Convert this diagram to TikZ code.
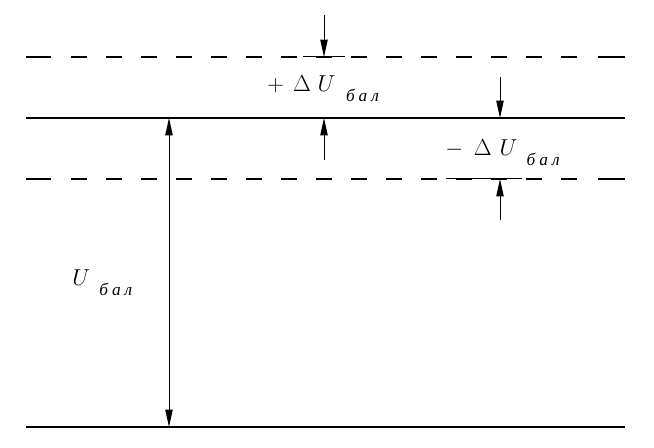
\documentclass[tikz,border=0pt]{standalone}
\usepackage{fontspec}
\usetikzlibrary{arrows.meta}
\newfontfamily\cyrit{Liberation Serif}
\newcommand{\subbal}{{\cyrit\itshape\fontsize{13}{15}\selectfont б\hspace{3pt}а\hspace{3pt}л}}
\tikzset{
  mainline/.style={line width=1.5pt},
  dashpart/.style={line width=1.5pt, dash pattern=on 12pt off 14.25pt},
  thinline/.style={line width=0.75pt},
  dimarrow/.style={line width=0.75pt, -{Triangle[length=13pt,width=5.5pt]}},
  dimboth/.style={line width=0.75pt, {Triangle[length=13pt,width=5.5pt]}-{Triangle[length=13pt,width=5.5pt]}},
  lbl/.style={inner sep=0pt, anchor=base west, font=\fontsize{19}{21}\selectfont}
}
\begin{document}
\begin{tikzpicture}[x=0.75pt,y=-0.75pt]
\useasboundingbox (0,0) rectangle (654,448);
% coordinates
\coordinate (d1a) at (26,57);  \coordinate (d1b) at (51,57);
\coordinate (d1c) at (71,57);  \coordinate (d1d) at (577,57);
\coordinate (d1e) at (598,57); \coordinate (d1f) at (625,57);
\coordinate (d2a) at (26,179);  \coordinate (d2b) at (51,179);
\coordinate (d2c) at (71,179);  \coordinate (d2d) at (577,179);
\coordinate (d2e) at (598,179); \coordinate (d2f) at (625,179);
\coordinate (s1a) at (26,118); \coordinate (s1b) at (625,118);
\coordinate (s2a) at (26,427); \coordinate (s2b) at (625,427);
% lines
\draw[mainline] (s1a) -- (s1b);
\draw[mainline] (s2a) -- (s2b);
\draw[mainline] (d1a) -- (d1b);
\draw[dashpart] (d1c) -- (d1d);
\draw[mainline] (d1e) -- (d1f);
\draw[mainline] (d2a) -- (d2b);
\draw[dashpart] (d2c) -- (d2d);
\draw[mainline] (d2e) -- (d2f);
% thin extensions
\coordinate (e1a) at (303,57); \coordinate (e1b) at (345,57);
\coordinate (e2a) at (446,179); \coordinate (e2b) at (522,179);
\draw[thinline] (e1a) -- (e1b);
\draw[thinline] (e2a) -- (e2b);
% arrows
\coordinate (a1s) at (324,15);  \coordinate (a1t) at (324,57);
\coordinate (a2s) at (324,160); \coordinate (a2t) at (324,118);
\coordinate (a3s) at (500,77);  \coordinate (a3t) at (500,118);
\coordinate (a4s) at (500,220); \coordinate (a4t) at (500,179);
\coordinate (vt) at (169,118);  \coordinate (vb) at (169,427);
\draw[dimarrow] (a1s) -- (a1t);
\draw[dimarrow] (a2s) -- (a2t);
\draw[dimarrow] (a3s) -- (a3t);
\draw[dimarrow] (a4s) -- (a4t);
\draw[dimboth] (vt) -- (vb);
% labels
\node[lbl] (lplus) at (267,92) {$+$\hspace{7pt}$\Delta$\hspace{5pt}$U$\hspace{8pt}\raisebox{-7pt}{\subbal}};
\node[lbl] (lminus) at (445,156) {$-$\hspace{8pt}$\Delta$\hspace{6pt}$U$\hspace{7pt}\raisebox{-7pt}{\subbal}};
\node[lbl] (lbal) at (72,286) {$U$\hspace{7pt}\raisebox{-7pt}{\subbal}};
\end{tikzpicture}
\end{document}
